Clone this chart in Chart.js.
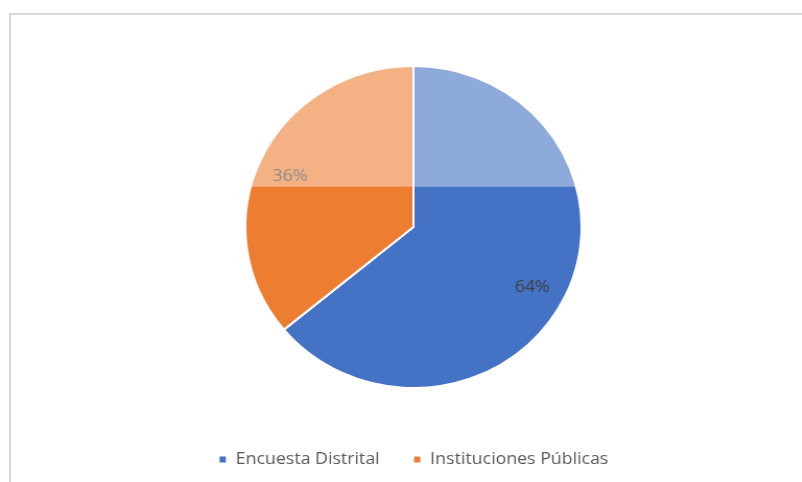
<!DOCTYPE html>
<html>
<head>
<meta charset="utf-8">
<script src="https://cdn.jsdelivr.net/npm/chart.js@4.4.1/dist/chart.umd.min.js"></script>
<style>
  html, body { margin: 0; padding: 0; background: #fff; overflow: hidden; }
  #marco {
    position: absolute; left: 9px; top: 13px; width: 900px; height: 600px;
    border-left: 2px solid #d9d9d9; border-top: 2px solid #d9d9d9;
  }
  #lienzo {
    position: absolute; left: 0; top: 0;
    transform: scaleX(1.044); transform-origin: 0 0;
  }
</style>
</head>
<body>
<div id="marco"></div>
<div id="lienzo"><canvas id="grafico" width="768" height="482"></canvas></div>
<script>
const categorias = ["Encuesta Distrital", "Instituciones Públicas"];
const valores = [64, 36];
const colores = ["#4472C4", "#ED7D31"];

// etiquetas de porcentaje dentro de cada porción
const etiquetasPorcentaje = {
  id: "etiquetasPorcentaje",
  afterDatasetsDraw(chart) {
    const ctx = chart.ctx;
    const meta = chart.getDatasetMeta(0);
    const total = valores.reduce((a, b) => a + b, 0);
    ctx.save();
    ctx.font = "17px 'Open Sans', sans-serif";
    ctx.fillStyle = "#404040";
    ctx.textAlign = "center";
    ctx.textBaseline = "middle";
    meta.data.forEach((arc, i) => {
      const p = arc.getProps(["x", "y", "startAngle", "endAngle", "outerRadius"], true);
      const medio = (p.startAngle + p.endAngle) / 2 + (i === 0 ? 0.05 : -0.03);
      const r = p.outerRadius * 0.8;
      const texto = Math.round(valores[i] / total * 100) + "%";
      ctx.fillText(texto, p.x + Math.cos(medio) * r, p.y + Math.sin(medio) * r);
    });
    ctx.restore();
  }
};

// franja superior aclarada
const franjaClara = {
  id: "franjaClara",
  afterDatasetsDraw(chart) {
    const arc = chart.getDatasetMeta(0).data[0];
    if (!arc) return;
    const p = arc.getProps(["x", "y", "outerRadius"], true);
    const ctx = chart.ctx;
    const arriba = p.y - p.outerRadius - 2;
    const corte = p.y - p.outerRadius * 0.25;
    ctx.save();
    ctx.beginPath();
    ctx.arc(p.x, p.y, p.outerRadius + 1, 0, Math.PI * 2);
    ctx.clip();
    ctx.fillStyle = "rgba(255,255,255,0.4)";
    ctx.fillRect(p.x - p.outerRadius - 2, arriba, p.outerRadius * 2 + 4, corte - arriba);
    ctx.restore();
  }
};

new Chart(document.getElementById("grafico"), {
  type: "pie",
  data: {
    labels: categorias,
    datasets: [{
      data: valores,
      backgroundColor: colores,
      borderColor: "#ffffff",
      borderWidth: 2,
      radius: 161
    }]
  },
  options: {
    responsive: false,
    animation: false,
    devicePixelRatio: 1,
    layout: { padding: { top: 35, bottom: 4, left: 24, right: 0 } },
    plugins: {
      tooltip: { enabled: false },
      legend: {
        position: "bottom",
        labels: {
          boxWidth: 8,
          boxHeight: 8,
          padding: 32,
          color: "#595959",
          font: { family: "'Open Sans', sans-serif", size: 17 }
        }
      }
    }
  },
  plugins: [etiquetasPorcentaje, franjaClara]
});
</script>
</body>
</html>
